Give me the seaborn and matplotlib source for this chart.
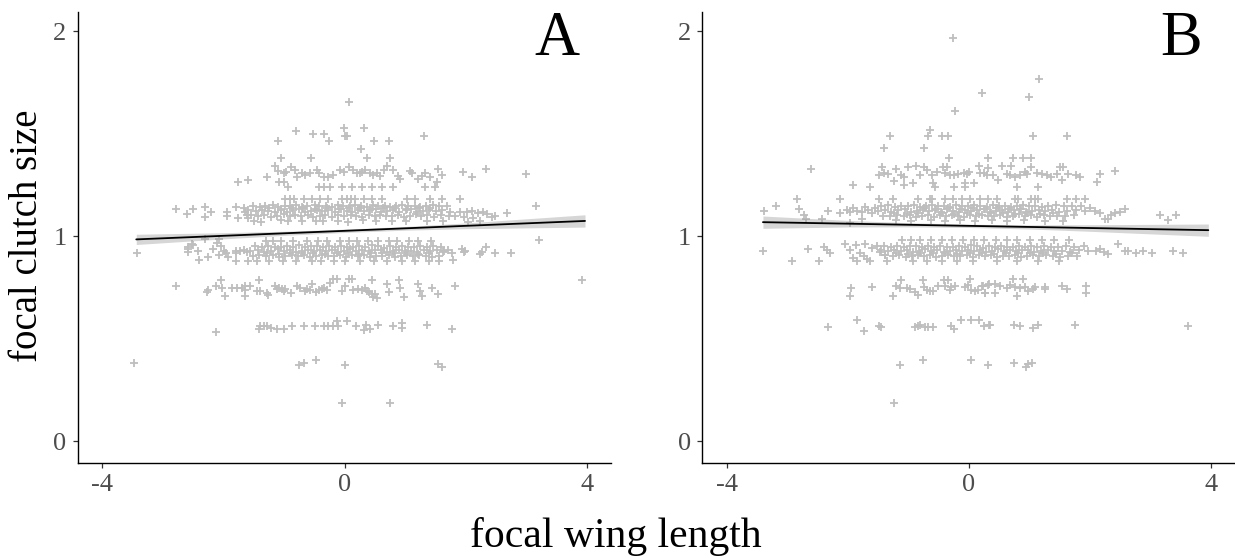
import numpy as np
import seaborn as sns
import matplotlib.pyplot as plt

# ---- panel A: focal wing length vs focal clutch size ----
a_wing = [
    # dense band ~1.15
    -1.52, -1.40, -1.31, -1.19, -1.10, -0.99, -0.90, -0.80, -0.71, -0.62, -0.50, -0.42, -0.31, -0.22, -0.12, -0.03,
    0.08, 0.17, 0.27, 0.36, 0.47, 0.55, 0.66, 0.74, 0.85, 0.95, 1.04, 1.15, 1.24, 1.33, 1.45, 1.56, 1.68,
    # dense band ~1.125
    -1.60, -1.47, -1.36, -1.26, -1.15, -1.05, -0.95, -0.85, -0.76, -0.66, -0.56, -0.46, -0.37, -0.27, -0.17, -0.07,
    0.03, 0.12, 0.22, 0.31, 0.41, 0.51, 0.60, 0.70, 0.80, 0.90, 1.00, 1.09, 1.19, 1.29, 1.39, 1.50, 1.61, 1.74,
    # dense band ~1.10
    -1.55, -1.43, -1.33, -1.22, -1.12, -1.01, -0.91, -0.82, -0.72, -0.61, -0.52, -0.41, -0.32, -0.21, -0.11, -0.01,
    0.10, 0.19, 0.29, 0.39, 0.49, 0.58, 0.68, 0.78, 0.87, 0.97, 1.07, 1.17, 1.26, 1.36, 1.47, 1.58, 1.71, 1.82,
    # dense band ~1.137 (extra fill)
    -1.25, -1.06, -0.88, -0.69, -0.49, -0.30, -0.10, 0.07, 0.25, 0.44, 0.63, 0.83, 1.02, 1.22, 1.41,
    # row 1.18
    -0.98, -0.91, -0.84, -0.68, -0.54, -0.41, -0.27, -0.05, 0.03, 0.10, 0.17, 0.32, 0.44, 0.61, 1.02, 1.16, 1.41, 1.60, 1.90,
    # row 1.075
    -1.50, -1.38, -1.05, -0.93, -0.70, -0.48, -0.36, -0.12, 0.05, 0.30, 0.52, 0.78, 1.00, 1.36, 1.62,
    # sparse edges of 1.12 band
    -2.79, -2.61, -2.50, -2.31, -2.31, -2.20, -1.94, -1.94, -1.80, -1.77, -1.67, -1.64, -1.61, -1.59,
    1.90, 2.01, 2.09, 2.20, 2.28, 2.34, 2.48, 2.67, 2.12, 2.23, 2.42, 1.96, 2.03, 3.16,
    # dense band ~0.955
    -1.48, -1.37, -1.27, -1.16, -1.06, -0.96, -0.86, -0.76, -0.66, -0.56, -0.46, -0.36, -0.26, -0.16, -0.06, 0.04,
    0.14, 0.24, 0.34, 0.44, 0.54, 0.64, 0.74, 0.84, 0.94, 1.04, 1.14, 1.24, 1.35, 1.46, 1.58,
    # dense band ~0.93
    -1.56, -1.44, -1.33, -1.22, -1.11, -1.01, -0.91, -0.81, -0.71, -0.61, -0.51, -0.41, -0.31, -0.21, -0.11, -0.01,
    0.09, 0.19, 0.29, 0.39, 0.49, 0.59, 0.69, 0.79, 0.89, 0.99, 1.09, 1.19, 1.30, 1.41, 1.52, 1.64,
    # dense band ~0.905
    -1.52, -1.41, -1.30, -1.19, -1.09, -0.98, -0.88, -0.78, -0.68, -0.58, -0.48, -0.38, -0.28, -0.18, -0.08, 0.02,
    0.12, 0.22, 0.32, 0.42, 0.52, 0.62, 0.72, 0.82, 0.92, 1.02, 1.12, 1.22, 1.33, 1.44, 1.56,
    # dense band ~0.918 (extra fill)
    -1.28, -1.08, -0.90, -0.71, -0.52, -0.33, -0.13, 0.05, 0.24, 0.43, 0.62, 0.81, 1.00, 1.20, 1.39,
    # row 0.98
    -1.30, -1.18, -1.05, -0.85, -0.62, -0.45, -0.30, -0.08, 0.06, 0.20, 0.38, 0.55, 0.72, 0.86, 1.05, 1.20, 1.42,
    # row 0.88
    -1.60, -1.45, -1.25, -1.02, -0.80, -0.55, -0.40, -0.18, 0.00, 0.25, 0.48, 0.70, 0.95, 1.15, 1.38, 1.55,
    # sparse edges of 0.94 band
    -3.43, -2.59, -2.52, -2.58, -2.58, -2.50, -2.43, -2.40, -2.30, -2.25, -2.17, -2.11, -2.07, -2.05, -2.08, -2.00,
    -1.96, -1.93, -1.80, -1.79, -1.79, -1.73, -1.67, -1.62,
    1.62, 1.70, 1.76, 1.79, 1.93, 1.96, 1.98, 2.23, 2.26, 2.32, 2.48, 2.74, 3.20,
    # band 0.75
    -2.79, -2.28, -2.26, -2.13, -2.05, -2.03, -1.97, -1.86, -1.78, -1.70, -1.64, -1.64, -1.64, -1.56, -1.42, -1.45,
    -1.40, -1.29, -1.26, -1.15, -1.09, -1.04, -0.98, -0.89, -0.79, -0.74, -0.65, -0.57, -0.54, -0.43, -0.38, -0.34,
    -0.24, -0.19, -0.13, -0.05, 0.00, 0.06, 0.12, 0.14, 0.22, 0.28, 0.33, 0.39, 0.44, 0.47, 0.53, 0.45, 0.69, 0.72,
    0.90, 0.91, 0.98, 1.21, 1.24, 1.27, 1.43, 1.53, 1.82, 3.91, -1.12, -1.00, -0.62, -0.48, -0.30, 0.36, 0.50,
    # band 0.56
    -2.13, -1.42, -1.40, -1.34, -1.29, -1.21, -1.12, -1.01, -0.87, -0.68, -0.50, -0.34, -0.27, -0.19, -0.11, -0.13,
    0.03, 0.19, 0.32, 0.35, 0.41, 0.55, 0.79, 0.95, 0.95, 1.35, 1.77,
    # band 0.375 and 0.19
    -3.48, -0.76, -0.68, -0.47, 0.00, 1.53, 1.61, -0.05, 0.75,
    # band 1.31
    -1.77, -1.60, -1.29, -1.16, -1.10,
    -1.01, -0.97, -0.89, -0.82, -0.79, -0.71, -0.65, -0.57, -0.46, -0.43, -0.35, -0.27, -0.19, -0.08, -0.02, 0.06,
    0.14, 0.20, 0.25, 0.28, 0.33, 0.42, 0.47, 0.53, 0.58, 0.64, 0.69, 0.80, 0.88, 0.91, 1.07, 1.10, 1.21, 1.27,
    1.32, 1.41, 1.52, 1.54, 1.60, 1.95, 2.09, 2.33, 2.99,
    -1.08, -1.01, -0.93, -0.42, -0.34, -0.24, -0.05, 0.12, 0.28, 0.44, 0.61, 0.80, 1.32, 1.49,
    # upper outliers
    -1.05, -0.56, 0.37, 0.75, 0.27, -1.10, -0.26, 0.48, 0.72, -0.81, -0.53, -0.34, -0.02, 0.32, 0.00, 0.04, 1.30, 0.06,
]
a_clutch = [
    1.150, 1.145, 1.148, 1.152, 1.144, 1.150, 1.147, 1.153, 1.145, 1.149, 1.151, 1.146, 1.150, 1.144, 1.152, 1.148,
    1.146, 1.151, 1.149, 1.145, 1.152, 1.147, 1.150, 1.144, 1.149, 1.153, 1.146, 1.150, 1.145, 1.148, 1.151, 1.146, 1.149,
    1.126, 1.122, 1.130, 1.124, 1.118, 1.128, 1.121, 1.127, 1.132, 1.119, 1.125, 1.130, 1.122, 1.127, 1.120, 1.131,
    1.124, 1.118, 1.129, 1.123, 1.126, 1.132, 1.120, 1.125, 1.129, 1.121, 1.127, 1.133, 1.119, 1.124, 1.128, 1.122, 1.126, 1.121,
    1.102, 1.098, 1.105, 1.095, 1.100, 1.107, 1.097, 1.103, 1.099, 1.106, 1.094, 1.101, 1.104, 1.096, 1.102, 1.098,
    1.105, 1.100, 1.093, 1.103, 1.099, 1.106, 1.097, 1.101, 1.104, 1.095, 1.100, 1.107, 1.098, 1.102, 1.096, 1.103, 1.099, 1.101,
    1.137, 1.135, 1.139, 1.136, 1.134, 1.138, 1.135, 1.137, 1.139, 1.134, 1.136, 1.138, 1.135, 1.137, 1.136,
    1.182, 1.182, 1.182, 1.182, 1.182, 1.182, 1.182, 1.182, 1.182, 1.182, 1.182, 1.182, 1.182, 1.182, 1.182, 1.182, 1.182, 1.182, 1.182,
    1.075, 1.072, 1.078, 1.074, 1.076, 1.073, 1.077, 1.075, 1.072, 1.078, 1.074, 1.076, 1.073, 1.077, 1.075,
    1.133, 1.109, 1.133, 1.144, 1.096, 1.120, 1.120, 1.100, 1.144, 1.088, 1.137, 1.120, 1.104, 1.088,
    1.120, 1.120, 1.125, 1.115, 1.120, 1.109, 1.100, 1.115, 1.088, 1.076, 1.096, 1.096, 1.071, 1.148,
    0.952, 0.948, 0.955, 0.950, 0.946, 0.953, 0.949, 0.956, 0.947, 0.951, 0.954, 0.948, 0.952, 0.946, 0.955, 0.950,
    0.947, 0.953, 0.949, 0.956, 0.951, 0.945, 0.952, 0.948, 0.954, 0.950, 0.946, 0.953, 0.949, 0.951, 0.947,
    0.928, 0.933, 0.925, 0.930, 0.936, 0.927, 0.932, 0.924, 0.929, 0.935, 0.926, 0.931, 0.928, 0.934, 0.925, 0.930,
    0.936, 0.927, 0.932, 0.926, 0.931, 0.935, 0.924, 0.929, 0.933, 0.927, 0.930, 0.925, 0.932, 0.928, 0.934, 0.929,
    0.905, 0.910, 0.902, 0.908, 0.900, 0.906, 0.911, 0.903, 0.907, 0.899, 0.905, 0.909, 0.902, 0.906, 0.910, 0.901,
    0.907, 0.904, 0.909, 0.900, 0.906, 0.903, 0.908, 0.901, 0.905, 0.910, 0.902, 0.907, 0.904, 0.899, 0.906,
    0.918, 0.916, 0.920, 0.917, 0.919, 0.915, 0.918, 0.921, 0.916, 0.919, 0.917, 0.920, 0.918, 0.916, 0.919,
    0.978, 0.978, 0.978, 0.978, 0.978, 0.978, 0.978, 0.978, 0.978, 0.978, 0.978, 0.978, 0.978, 0.978, 0.978, 0.978, 0.978,
    0.880, 0.880, 0.880, 0.880, 0.880, 0.880, 0.880, 0.880, 0.880, 0.880, 0.880, 0.880, 0.880, 0.880, 0.880, 0.880,
    0.920, 0.950, 0.962, 0.936, 0.925, 0.958, 0.930, 0.885, 0.985, 0.900, 0.936, 0.966, 0.985, 0.955, 0.910, 0.930,
    0.920, 0.900, 0.930, 0.920, 0.880, 0.930, 0.935, 0.925,
    0.925, 0.933, 0.917, 0.884, 0.940, 0.925, 0.930, 0.914, 0.925, 0.946, 0.920, 0.920, 0.980,
    0.757, 0.730, 0.740, 0.757, 0.785, 0.750, 0.710, 0.750, 0.750, 0.750, 0.740, 0.757, 0.710, 0.757, 0.785, 0.733,
    0.733, 0.725, 0.715, 0.760, 0.750, 0.745, 0.745, 0.725, 0.760, 0.750, 0.735, 0.740, 0.765, 0.740, 0.745, 0.750,
    0.770, 0.790, 0.790, 0.735, 0.760, 0.790, 0.790, 0.740, 0.745, 0.740, 0.750, 0.730, 0.720, 0.705, 0.700, 0.787, 0.765, 0.730,
    0.787, 0.750, 0.705, 0.765, 0.735, 0.710, 0.750, 0.720, 0.757, 0.787, 0.745, 0.735, 0.745, 0.730, 0.740, 0.735, 0.720,
    0.532, 0.546, 0.560, 0.560, 0.560, 0.555, 0.550, 0.550, 0.560, 0.560, 0.560, 0.560, 0.560, 0.560, 0.560, 0.585,
    0.585, 0.560, 0.545, 0.565, 0.550, 0.565, 0.560, 0.575, 0.555, 0.565, 0.550,
    0.380, 0.370, 0.380, 0.395, 0.372, 0.375, 0.360, 0.185, 0.185,
    1.266, 1.275, 1.288, 1.343, 1.320,
    1.307, 1.315, 1.340, 1.323, 1.288, 1.310, 1.299, 1.307, 1.323, 1.307, 1.288, 1.291, 1.299, 1.323, 1.315, 1.340,
    1.323, 1.307, 1.307, 1.315, 1.323, 1.307, 1.299, 1.310, 1.294, 1.323, 1.343, 1.323, 1.294, 1.278, 1.319, 1.307, 1.278, 1.294,
    1.307, 1.288, 1.266, 1.327, 1.299, 1.312, 1.288, 1.327, 1.304,
    1.266, 1.266, 1.242, 1.242, 1.242, 1.242, 1.242, 1.242, 1.242, 1.242, 1.242, 1.242, 1.242, 1.242,
    1.380, 1.380, 1.380, 1.380, 1.428, 1.466, 1.466, 1.466, 1.466, 1.515, 1.500, 1.500, 1.530, 1.530, 1.490, 1.490, 1.490, 1.655,
]

# ---- panel B ----
b_wing = [
    # dense band ~1.15
    -1.45, -1.34, -1.22, -1.12, -1.01, -0.91, -0.81, -0.71, -0.61, -0.51, -0.41, -0.31, -0.21, -0.11, -0.01, 0.09,
    0.19, 0.29, 0.39, 0.49, 0.59, 0.69, 0.79, 0.89, 0.99, 1.09, 1.20, 1.31, 1.43, 1.56, 1.70, 1.85,
    # dense band ~1.125
    -1.50, -1.39, -1.28, -1.17, -1.06, -0.96, -0.86, -0.76, -0.66, -0.56, -0.46, -0.36, -0.26, -0.16, -0.06, 0.04,
    0.14, 0.24, 0.34, 0.44, 0.54, 0.64, 0.74, 0.84, 0.94, 1.04, 1.15, 1.26, 1.37, 1.49, 1.62, 1.77, 1.92,
    # dense band ~1.10
    -1.42, -1.30, -1.19, -1.08, -0.98, -0.88, -0.78, -0.68, -0.58, -0.48, -0.38, -0.28, -0.18, -0.08, 0.02, 0.12,
    0.22, 0.32, 0.42, 0.52, 0.62, 0.72, 0.82, 0.92, 1.02, 1.12, 1.23, 1.34, 1.46, 1.59, 1.73,
    -0.74, -0.54, -0.34, -0.14, 0.06, 0.26, 0.46, 0.66, 0.86,
    -1.24, -1.03, -0.84, -0.44, -0.24, -0.04, 0.16, 0.36, 0.56, 0.76, 0.96, 1.17, 1.39,
    # row 1.075
    -1.20, -0.95, -0.62, -0.40, -0.15, 0.10, 0.38, 0.62, 0.90, 1.25, 1.55,
    # row 1.18
    -2.84, -2.13, -1.49, -1.25, -0.84, -0.64, -0.61, -0.40, -0.26, -0.12, 0.02, 0.18, 0.32, 0.46, 0.76, 0.81,
    1.03, 1.09, 1.14, 1.61, 1.77, 1.91,
    # sparse edges of 1.12 band
    -3.38, -3.18, -2.80, -2.73, -2.69, -2.43, -2.33, -2.13, -2.01, -1.96, -1.91, -1.85, -1.77, -1.71, -1.66, -1.60,
    -1.55, -1.97, -1.77,
    1.99, 2.08, 2.16, 2.24, 2.30, 2.35, 2.41, 2.49, 2.57, 3.15, 3.28, 3.42,
    # dense band ~0.955
    -1.40, -1.29, -1.18, -1.07, -0.97, -0.87, -0.77, -0.67, -0.57, -0.47, -0.37, -0.27, -0.17, -0.07, 0.03, 0.13,
    0.23, 0.33, 0.43, 0.53, 0.63, 0.73, 0.83, 0.93, 1.03, 1.13, 1.24, 1.35, 1.47, 1.60, 1.74, 1.90,
    # dense band ~0.93
    -1.45, -1.34, -1.23, -1.12, -1.02, -0.92, -0.82, -0.72, -0.62, -0.52, -0.42, -0.32, -0.22, -0.12, -0.02, 0.08,
    0.18, 0.28, 0.38, 0.48, 0.58, 0.68, 0.78, 0.88, 0.98, 1.08, 1.19, 1.30, 1.41, 1.53, 1.66, 1.81, 1.97, 2.10,
    # dense band ~0.905
    -1.38, -1.26, -1.15, -1.04, -0.94, -0.84, -0.74, -0.64, -0.54, -0.44, -0.34, -0.24, -0.14, -0.04, 0.06, 0.16,
    0.26, 0.36, 0.46, 0.56, 0.66, 0.76, 0.86, 0.96, 1.06, 1.16, 1.27, 1.38, 1.50, 1.63, 1.78,
    -1.20, -1.00, -0.80, -0.60, -0.39, -0.19, 0.01, 0.21, 0.41, 0.61, 0.81, 1.01, 1.22, 1.44, 1.70,
    # row 0.98
    -1.10, -0.95, -0.80, -0.62, -0.45, -0.28, -0.10, 0.08, 0.25, 0.45, 0.62, 0.80, 1.00, 1.20, 1.40, 1.65,
    # row 0.88
    -0.92, -0.70, -0.45, -0.20, 0.07, 0.46, 0.80, 1.14, 1.48,
    # sparse edges of 0.94 band
    -3.40, -2.92, -2.66, -2.48, -2.40, -2.34, -2.29, -2.04, -1.96, -1.86, -1.80, -1.74, -1.69, -1.64, -1.71, -1.91,
    -1.85, -1.60, -1.52, -1.47, -1.38, -1.36,
    2.16, 2.22, 2.30, 2.46, 2.58, 2.62, 2.75, 2.88, 3.02, 3.36, 3.54,
    # band 0.75
    -1.95, -1.97, -1.60, -1.26, -1.21, -1.14, -1.12, -1.03, -0.97, -0.89, -0.84, -0.76, -0.75, -0.70, -0.64, -0.59,
    -0.51, -0.42, -0.40, -0.34, -0.31, -0.29, -0.23, -0.07, -0.01, 0.02, 0.04, 0.10, 0.15, 0.21, 0.26, 0.32,
    0.23, 0.33, 0.43, 0.51, 0.26, 0.43, 0.62, 0.68, 0.73, 0.76, 0.80, 0.84, 0.89, 0.92, 0.98, 1.06, 1.09, 1.25, 1.25,
    1.53, 1.61, 1.93, 1.93,
    # band 0.56
    -2.32, -1.84, -1.73, -1.49, -1.45, -0.89, -0.84, -0.80, -0.73, -0.67, -0.60, -0.29, -0.25, -0.13, 0.03, 0.17,
    0.33, 0.25, 0.35, 0.74, 0.85, 1.06, 1.14, 1.75, 3.62,
    # band 0.375 and 0.19
    -1.13, -0.76, 0.03, 0.32, 0.74, 0.94, 0.98, 1.04, -1.24,
    # band 1.31
    -1.44, -1.49, -1.41, -1.33, -1.21, -1.24, -1.12, -1.08, -1.00, -0.92, -0.88, -0.81, -0.74, -0.69, -0.61, -0.59,
    -0.56, -0.52, -0.43, -0.40, -0.37, -0.31, -0.25, -0.18, -0.09, -0.04, 0.00, -0.25, -0.07, -0.07, 0.08, 0.17,
    0.19, 0.29, 0.24, 0.32, 0.40, 0.48, 0.54, 0.62, 0.70, 0.68, 0.76, 0.84, 0.92, 0.95, 1.03, 1.12, 1.20, 1.28,
    1.36, 1.45, 1.50, 1.55, 1.53, 1.64, 1.77, 1.83, 2.11, 2.17, 2.41, 1.14, 0.80,
    # upper outliers
    -0.26, 0.22, -0.23, 1.15, 0.99, -1.31, -0.64, -0.67, -0.44, -0.34, 1.06, 1.62, -1.40, -0.74, -0.33, 0.32,
    0.73, 0.89, 1.03, -2.61, -1.92, -1.63, -1.08,
]
b_clutch = [
    1.148, 1.152, 1.145, 1.150, 1.147, 1.153, 1.144, 1.149, 1.151, 1.146, 1.150, 1.145, 1.152, 1.148, 1.146, 1.151,
    1.149, 1.145, 1.152, 1.147, 1.150, 1.144, 1.149, 1.153, 1.146, 1.150, 1.145, 1.148, 1.151, 1.146, 1.149, 1.147,
    1.124, 1.129, 1.121, 1.127, 1.132, 1.119, 1.125, 1.130, 1.122, 1.127, 1.120, 1.131, 1.124, 1.118, 1.129, 1.123,
    1.126, 1.132, 1.120, 1.125, 1.129, 1.121, 1.127, 1.133, 1.119, 1.124, 1.128, 1.122, 1.126, 1.121, 1.125, 1.130, 1.123,
    1.101, 1.097, 1.104, 1.099, 1.106, 1.094, 1.100, 1.103, 1.096, 1.102, 1.098, 1.105, 1.100, 1.093, 1.103, 1.099,
    1.106, 1.097, 1.101, 1.104, 1.095, 1.100, 1.107, 1.098, 1.102, 1.096, 1.103, 1.099, 1.101, 1.097, 1.104,
    1.137, 1.134, 1.138, 1.135, 1.136, 1.133, 1.137, 1.135, 1.134,
    1.113, 1.111, 1.114, 1.112, 1.110, 1.113, 1.111, 1.114, 1.112, 1.110, 1.113, 1.111, 1.112,
    1.078, 1.075, 1.080, 1.076, 1.079, 1.074, 1.078, 1.076, 1.080, 1.075, 1.077,
    1.180, 1.180, 1.180, 1.180, 1.180, 1.180, 1.180, 1.180, 1.180, 1.180, 1.180, 1.180, 1.180, 1.180, 1.180, 1.180,
    1.180, 1.180, 1.180, 1.180, 1.180, 1.180,
    1.125, 1.148, 1.132, 1.104, 1.084, 1.084, 1.125, 1.115, 1.128, 1.120, 1.137, 1.125, 1.120, 1.144, 1.128, 1.112,
    1.137, 1.063, 1.083,
    1.137, 1.125, 1.112, 1.083, 1.083, 1.104, 1.115, 1.120, 1.132, 1.104, 1.080, 1.104,
    0.953, 0.949, 0.955, 0.947, 0.951, 0.954, 0.948, 0.952, 0.946, 0.955, 0.950, 0.947, 0.953, 0.949, 0.956, 0.951,
    0.945, 0.952, 0.948, 0.954, 0.950, 0.946, 0.953, 0.949, 0.951, 0.947, 0.955, 0.950, 0.948, 0.953, 0.949, 0.951,
    0.931, 0.926, 0.933, 0.928, 0.935, 0.925, 0.930, 0.936, 0.927, 0.932, 0.924, 0.929, 0.935, 0.926, 0.931, 0.928,
    0.934, 0.925, 0.930, 0.936, 0.927, 0.932, 0.926, 0.931, 0.935, 0.924, 0.929, 0.933, 0.927, 0.930, 0.925, 0.932, 0.928, 0.930,
    0.907, 0.902, 0.909, 0.900, 0.906, 0.911, 0.903, 0.907, 0.899, 0.905, 0.909, 0.902, 0.906, 0.910, 0.901, 0.907,
    0.904, 0.909, 0.900, 0.906, 0.903, 0.908, 0.901, 0.905, 0.910, 0.902, 0.907, 0.904, 0.899, 0.906, 0.903,
    0.918, 0.916, 0.920, 0.917, 0.919, 0.915, 0.918, 0.921, 0.916, 0.919, 0.917, 0.920, 0.918, 0.916, 0.919,
    0.982, 0.982, 0.982, 0.982, 0.982, 0.982, 0.982, 0.982, 0.982, 0.982, 0.982, 0.982, 0.982, 0.982, 0.982, 0.982,
    0.881, 0.881, 0.881, 0.881, 0.881, 0.881, 0.881, 0.881, 0.881,
    0.928, 0.881, 0.937, 0.881, 0.949, 0.933, 0.917, 0.962, 0.933, 0.959, 0.917, 0.904, 0.891, 0.881, 0.962, 0.893,
    0.881, 0.941, 0.953, 0.925, 0.909, 0.881,
    0.940, 0.925, 0.915, 0.962, 0.930, 0.928, 0.920, 0.928, 0.920, 0.928, 0.920,
    0.750, 0.710, 0.754, 0.710, 0.758, 0.749, 0.787, 0.749, 0.741, 0.730, 0.714, 0.787, 0.754, 0.738, 0.735, 0.735,
    0.758, 0.787, 0.758, 0.787, 0.738, 0.754, 0.758, 0.754, 0.762, 0.790, 0.738, 0.735, 0.738, 0.759, 0.722, 0.762,
    0.758, 0.767, 0.767, 0.758, 0.725, 0.725, 0.746, 0.762, 0.790, 0.754, 0.709, 0.746, 0.790, 0.754, 0.735, 0.741, 0.754, 0.741, 0.754,
    0.758, 0.741, 0.758, 0.725,
    0.559, 0.592, 0.538, 0.564, 0.556, 0.559, 0.564, 0.569, 0.559, 0.559, 0.559, 0.564, 0.550, 0.590, 0.590, 0.590,
    0.569, 0.562, 0.567, 0.567, 0.562, 0.554, 0.567, 0.567, 0.562,
    0.372, 0.397, 0.397, 0.372, 0.380, 0.361, 0.377, 0.380, 0.185,
    1.340, 1.300, 1.307, 1.304, 1.327, 1.271, 1.300, 1.288, 1.340, 1.261, 1.344, 1.300, 1.340, 1.323, 1.300, 1.261,
    1.242, 1.315, 1.340, 1.307, 1.340, 1.300, 1.300, 1.304, 1.307, 1.304, 1.315, 1.242, 1.258, 1.242, 1.258, 1.344,
    1.307, 1.300, 1.307, 1.332, 1.300, 1.275, 1.343, 1.304, 1.343, 1.300, 1.291, 1.300, 1.315, 1.304, 1.340, 1.307,
    1.304, 1.300, 1.291, 1.304, 1.340, 1.340, 1.275, 1.304, 1.300, 1.291, 1.263, 1.303, 1.319, 1.242, 1.242,
    1.969, 1.700, 1.610, 1.766, 1.678, 1.490, 1.519, 1.490, 1.490, 1.490, 1.490, 1.490, 1.430, 1.430, 1.383, 1.383,
    1.383, 1.383, 1.383, 1.328, 1.250, 1.242, 1.250,
]

# fitted lines and confidence bands
fit_x_a = [-3.44, -2.0, -1.0, 0.0, 1.0, 2.0, 3.96]
fit_y_a = [0.985, 1.0025, 1.0147, 1.0268, 1.039, 1.0512, 1.075]
fit_se_a = [0.025, 0.015, 0.010, 0.008, 0.009, 0.014, 0.030]
fit_x_b = [-3.40, -2.0, -1.0, 0.0, 1.0, 2.0, 3.95]
fit_y_b = [1.069, 1.0616, 1.0563, 1.051, 1.0457, 1.0404, 1.030]
fit_se_b = [0.030, 0.016, 0.010, 0.008, 0.010, 0.016, 0.030]

panels = [
    ("A", a_wing, a_clutch, fit_x_a, fit_y_a, fit_se_a),
    ("B", b_wing, b_clutch, fit_x_b, fit_y_b, fit_se_b),
]

sns.set_theme(style="ticks")
plt.rcParams["font.family"] = ["Liberation Serif", "DejaVu Serif"]
plt.rcParams["axes.unicode_minus"] = False

fig = plt.figure(figsize=(12.35, 5.58), dpi=100)
ax_pos = [[0.0632, 0.171, 0.4316, 0.8066], [0.5687, 0.171, 0.4313, 0.8066]]

for pos, (tag, wing, clutch, fx, fy, fse) in zip(ax_pos, panels):
    ax = fig.add_axes(pos)
    sns.scatterplot(x=wing, y=clutch, marker="+", color="#BEBEBE", s=36,
                    linewidth=1.3, ax=ax, zorder=2)
    fx = np.array(fx)
    fy = np.array(fy)
    fse = np.array(fse)
    ax.fill_between(fx, fy - fse, fy + fse, color="#999999", alpha=0.4,
                    linewidth=0, zorder=3)
    sns.lineplot(x=fx, y=fy, color="black", linewidth=1.3, ax=ax, zorder=4)

    ax.set_xlim(-4.4, 4.39)
    ax.set_ylim(-0.104, 2.092)
    ax.set_xticks([-4, 0, 4])
    ax.set_yticks([0, 1, 2])
    ax.set_xlabel("")
    ax.set_ylabel("")
    for side in ["top", "right"]:
        ax.spines[side].set_visible(False)
    for side in ["left", "bottom"]:
        ax.spines[side].set_color("black")
        ax.spines[side].set_linewidth(1.0)
    ax.tick_params(axis="both", length=3.3, width=0.9, color="#333333",
                   labelcolor="#4D4D4D", labelsize=19, pad=5)
    ax.text(3.5, 1.885, tag, ha="center", va="baseline", fontsize=45,
            color="black")

fig.text(0.499, 0.038, "focal wing length", ha="center", va="center",
         fontsize=30, color="black")
fig.text(0.022, 0.578, "focal clutch size", ha="center", va="center",
         rotation=90, fontsize=28, color="black")

fig.savefig("out.png", dpi=100)
